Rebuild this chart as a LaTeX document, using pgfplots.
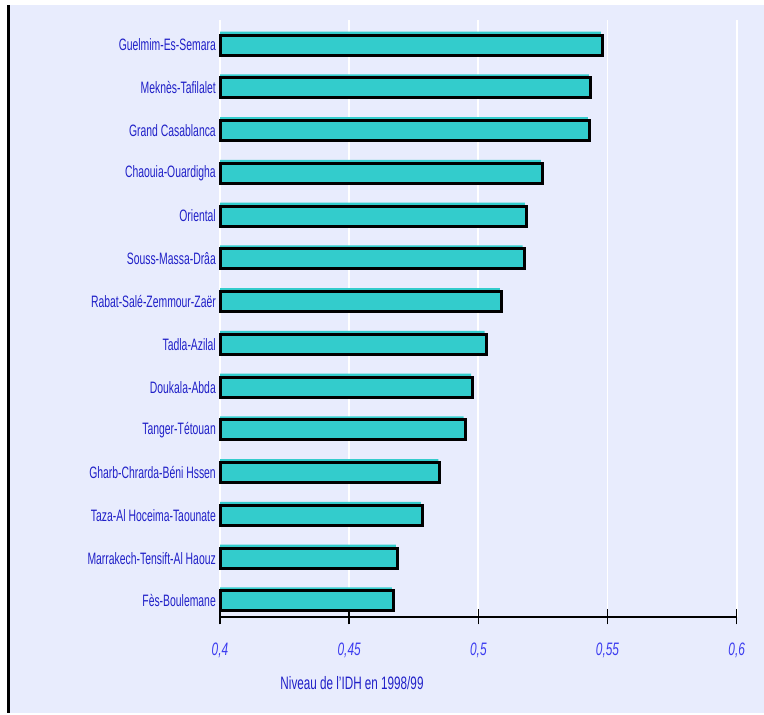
\documentclass[border=0pt]{standalone}
\usepackage{fontspec}
\setmainfont{Liberation Sans}[FakeStretch=0.65]
\newfontfamily\lblfont{Liberation Sans}[FakeStretch=0.63]
\newfontfamily\tickfont{Liberation Sans}[FakeStretch=0.66]
\usepackage{pgfplots}
\usepackage{pgfplotstable}
\pgfplotsset{compat=1.18}
\definecolor{bg}{HTML}{E8ECFD}
\definecolor{teal1}{HTML}{33CCCC}
\definecolor{lblue}{HTML}{2020C8}
\definecolor{tblue}{HTML}{3C3CF0}
\pgfplotstableread{
y v
13 0.5480
12 0.5434
11 0.5430
10 0.5248
9  0.5186
8  0.5177
7  0.5089
6  0.5030
5  0.4978
4  0.4949
3  0.4851
2  0.4784
1  0.4687
0  0.4671
}\idh
\begin{document}
\begin{tikzpicture}[x=1pt,y=1pt]
\fill[white] (0,0) rectangle (764,713);
\fill[bg] (9,0) rectangle (764,708);
\draw[black,line width=2.5pt] (8.5,0) -- (8.5,708);
\begin{axis}[
  at={(220pt,96pt)}, anchor=south west,
  scale only axis, width=516.7pt, height=597pt,
  xmin=0, xmax=0.2, ymin=-0.374, ymax=13.585,
  axis x line=bottom, axis y line=left,
  x axis line style={-, line width=2.2pt, black},
  y axis line style={draw=none},
  xtick={0,0.05,0.1,0.15,0.2},
  xticklabels={{0,4},{0,45},{0,5},{0,55},{0,6}},
  x tick style={black, line width=1.5pt},
  tick align=center, major tick length=15pt,
  ytick={0,...,13},
  y tick style={draw=none},
  yticklabels={Fès-Boulemane, Marrakech-Tensift-Al Haouz, Taza-Al Hoceima-Taounate, Gharb-Chrarda-Béni Hssen, Tanger-Tétouan, Doukala-Abda, Tadla-Azilal, Rabat-Salé-Zemmour-Zaër, Souss-Massa-Drâa, Oriental, Chaouia-Ouardigha, Grand Casablanca, Meknès-Tafilalet, Guelmim-Es-Semara},
  yticklabel style={font=\lblfont\fontsize{16.5}{18}\selectfont, text=lblue, inner sep=0pt, xshift=3.5pt},
  xticklabel style={font=\tickfont\fontsize{18}{20}\selectfont\itshape, text=tblue, inner sep=0pt, yshift=-18pt},
  xmajorgrids, grid style={white, line width=1.8pt},
  clip=false,
]
\addplot[xbar, bar width=20pt, bar shift=3.5pt, fill=teal1, draw=none] table[x expr=\thisrow{v}-0.4-0.0006, y=y] {\idh};
\addplot[xbar, bar width=20pt, bar shift=0pt, fill=teal1, draw=black, line width=3pt] table[x expr=\thisrow{v}-0.4, y=y] {\idh};
\end{axis}
\node[text=lblue, font=\fontsize{18}{20}\selectfont] at (352,30) {Niveau de l'IDH en 1998/99};
\end{tikzpicture}
\end{document}
